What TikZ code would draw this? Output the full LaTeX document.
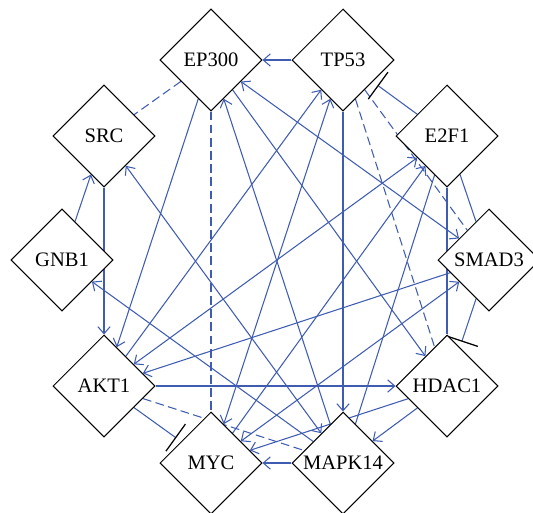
\documentclass[tikz,border=0pt]{standalone}
\usepackage{fontspec}
\setmainfont{Liberation Serif}
\usetikzlibrary{shapes.geometric,arrows.meta,backgrounds}
\definecolor{linkblue}{RGB}{62,92,178}

\begin{document}
\begin{tikzpicture}[x=0.02cm, y=-0.02cm,
    gene/.style={draw, diamond, fill=white, line width=0.6pt, inner sep=0pt,
                 minimum width=2.04cm, minimum height=2.04cm,
                 font=\fontsize{11.7}{14}\selectfont},
    link/.style={linkblue, line width=0.6pt},
    act/.style={link, -{Straight Barb[length=4pt,width=7pt]}},
    both/.style={link, {Straight Barb[length=4pt,width=7pt]}-{Straight Barb[length=4pt,width=7pt]}},
    inhib/.style={link, -{Bar[width=19pt,line width=0.7pt,color=black]}, shorten >=3.4pt},
    indirect/.style={link, dash pattern=on 5pt off 2.5pt}]
  \useasboundingbox (0,0) rectangle (533,512);
  % the ten genes round the ring
  \foreach \name/\x/\y/\lab in {ep300/211/60/EP300, tp53/343/60/TP53,
      src/104/136/SRC, e2f1/447/136/E2F1, gnb1/62/260/GNB1, smad3/489/260/SMAD3,
      akt1/104/386/AKT1, hdac1/447/386/HDAC1, myc/211/463/MYC, mapk14/343/463/MAPK14}
    \node[gene] (\name) at (\x,\y) {\lab};
  \begin{scope}[on background layer]
    % activation
    \foreach \a/\b in {tp53/ep300, ep300/akt1, ep300/hdac1, mapk14/ep300,
        tp53/mapk14, akt1/tp53, gnb1/src, src/akt1, mapk14/gnb1, akt1/hdac1,
        smad3/akt1, myc/e2f1, hdac1/myc, hdac1/mapk14, mapk14/myc}
      \draw[act] (\a) -- (\b);
    \foreach \a/\b in {ep300/smad3, tp53/myc, src/mapk14, akt1/e2f1, smad3/myc}
      \draw[both] (\a) -- (\b);
    % plain links
    \foreach \a/\b in {e2f1/smad3, e2f1/hdac1, mapk14/e2f1}
      \draw[link] (\a) -- (\b);
    % indirect
    \foreach \a/\b in {ep300/src, ep300/myc, tp53/hdac1, tp53/smad3, akt1/mapk14}
      \draw[indirect] (\a) -- (\b);
    % inhibition
    \foreach \a/\b in {e2f1/tp53, akt1/myc, smad3/hdac1}
      \draw[inhib] (\a) -- (\b);
  \end{scope}
\end{tikzpicture}
\end{document}
